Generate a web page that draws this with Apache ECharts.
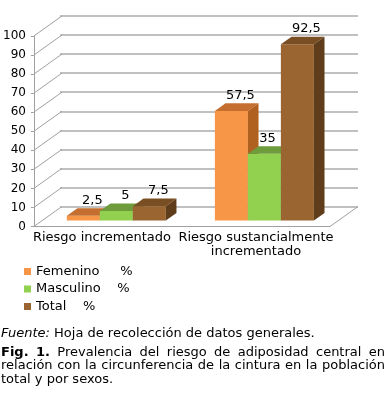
<!DOCTYPE html>
<html><head><meta charset="utf-8">
<script src="https://cdn.jsdelivr.net/npm/echarts@6/dist/echarts.min.js"></script>
<style>html,body{margin:0;padding:0;background:#fff}#c{width:386px;height:413px}</style>
</head><body><div id="c"></div>
<script>
// ---- data ----
const categories = ['Riesgo incrementado', 'Riesgo sustancialmente\nincrementado'];
const seriesNames = ['Femenino     %', 'Masculino    %', 'Total    %'];
const femenino = [2.5, 57.5];
const masculino = [5, 35];
const total = [7.5, 92.5];
const yTicks = [0, 10, 20, 30, 40, 50, 60, 70, 80, 90, 100];
const sourceText = 'Hoja de recolección de datos generales.';
const captionLines = [
  'Fig. 1. Prevalencia del riesgo de adiposidad central en',
  'relación con la circunferencia de la cintura en la población',
  'total y por sexos.'
];

// ---- style ----
const FONT = '"DejaVu Sans", Verdana, sans-serif';
const TXT = 13;
const faces = [
  { front: '#F79646', top: '#C46F2F', side: '#B0601F' },
  { front: '#92D050', top: '#6E9B3C', side: '#5E8A30' },
  { front: '#9A6531', top: '#7A4E23', side: '#5F3D1B' }
];
const DX = 28, DY = 20;          // depth of the 3D box
const F0 = 0.3, DEPTH = 0.38;    // bar position / depth inside the box
const BW = 33;                   // bar width
const FRONT = { left: 32, right: 56, top: 36, bottom: 186.5 };
const BACK = { left: FRONT.left + DX, right: FRONT.right - DX, top: FRONT.top - DY, bottom: FRONT.bottom + DY };

const seriesData = [femenino, masculino, total];
const fmt = v => String(v).replace('.', ',');

const ctx = document.createElement('canvas').getContext('2d');
function measure(t, bold) { ctx.font = (bold ? 'bold ' : '') + TXT + 'px ' + FONT; return ctx.measureText(t).width; }

function barGeom(si, api) {
  const cat = api.value(0), v = api.value(1);
  const base = api.coord([cat, 0]);
  const top = api.coord([cat, v]);
  const fx0 = base[0] - 1.5 * BW + si * BW + F0 * DX;
  return { cat, v, fx0, fx1: fx0 + BW, by: base[1] - F0 * DY, ty: top[1] - F0 * DY };
}

function barRender(si) {
  return function (params, api) {
    const g = barGeom(si, api);
    const { fx0, fx1, by, ty } = g;
    const ddx = DEPTH * DX, ddy = DEPTH * DY;
    const c = faces[si];
    return {
      type: 'group',
      children: [
        { type: 'rect', shape: { x: fx0, y: ty, width: BW, height: by - ty }, style: { fill: c.front } },
        { type: 'polygon', shape: { points: [[fx0, ty], [fx1, ty], [fx1 + ddx, ty - ddy], [fx0 + ddx, ty - ddy]] }, style: { fill: c.top } },
        { type: 'polygon', shape: { points: [[fx1, ty], [fx1 + ddx, ty - ddy], [fx1 + ddx, by - ddy], [fx1, by]] }, style: { fill: c.side } }
      ]
    };
  };
}

function labelRender(si) {
  return function (params, api) {
    const g = barGeom(si, api);
    const text = fmt(g.v);
    const w = measure(text, false);
    let cx = (g.fx0 + g.fx1) / 2 + 9;
    const cy = g.ty - 15.5;
    // keep the label clear of a taller neighbouring bar
    const next = seriesData[si + 1];
    if (next) {
      const nextTop = api.coord([g.cat, next[g.cat]])[1] - F0 * DY;
      if (nextTop < cy && cx + w / 2 > g.fx1 - 5) cx = g.fx1 - 5 - w / 2;
    }
    return { type: 'text', style: { text, x: cx, y: cy, align: 'center', verticalAlign: 'middle', fill: '#000', fontSize: TXT, fontFamily: FONT } };
  };
}

function diagRender(params, api) {
  const v = api.value(1);
  const p = api.coord([0, v]);
  const cs = params.coordSys;
  const x = cs.x;
  const children = [
    { type: 'line', shape: { x1: x, y1: p[1], x2: x + DX, y2: p[1] - DY }, style: { stroke: '#a0a0a0', lineWidth: 1 } }
  ];
  if (v === 0) {
    children.push({ type: 'line', shape: { x1: x + cs.width, y1: p[1], x2: x + cs.width + DX, y2: p[1] - DY }, style: { stroke: '#a0a0a0', lineWidth: 1 } });
  }
  return { type: 'group', children };
}

const series = [
  {
    type: 'custom', name: 'diag', xAxisIndex: 0, yAxisIndex: 0, silent: true, z: 1,
    renderItem: diagRender, data: yTicks.map(t => [0, t])
  }
];
seriesNames.forEach((n, i) => {
  series.push({
    type: 'custom', name: n, xAxisIndex: 0, yAxisIndex: 0, z: 3,
    itemStyle: { color: faces[i].front },
    renderItem: barRender(i),
    data: seriesData[i].map((v, ci) => [ci, v])
  });
});
seriesNames.forEach((n, i) => {
  series.push({
    type: 'custom', name: n + ' label', xAxisIndex: 0, yAxisIndex: 0, z: 5, silent: true,
    renderItem: labelRender(i),
    data: seriesData[i].map((v, ci) => [ci, v])
  });
});

// ---- caption (justified lines) ----
const graphics = [];
graphics.push({
  type: 'text', left: 1, top: 327,
  style: { text: '{i|Fuente:} ' + sourceText, fontSize: TXT, fontFamily: FONT, fill: '#000',
    rich: { i: { fontStyle: 'italic', fontSize: TXT, fontFamily: FONT, fill: '#000' } } }
});
const capY = [352.5, 366, 380];
const X0 = 1, X1 = 385;
captionLines.forEach((line, li) => {
  const words = line.split(' ');
  const bolds = words.map((w, wi) => li === 0 && wi < 2);
  const widths = words.map((w, wi) => measure(w, bolds[wi]));
  const sum = widths.reduce((a, b) => a + b, 0);
  const justify = li < captionLines.length - 1;
  const gap = justify ? (X1 - X0 - sum) / (words.length - 1) : measure(' ', false);
  let x = X0;
  words.forEach((w, wi) => {
    graphics.push({
      type: 'text', x: x, y: capY[li],
      style: { text: w, x: 0, y: 0, align: 'left', verticalAlign: 'middle', fill: '#000', fontSize: TXT, fontFamily: FONT, fontWeight: bolds[wi] ? 'bold' : 'normal' }
    });
    x += widths[wi] + gap;
  });
});

const chart = echarts.init(document.getElementById('c'), null, { renderer: 'canvas' });
chart.setOption({
  animation: false,
  backgroundColor: '#fff',
  textStyle: { fontFamily: FONT },
  grid: [
    { left: FRONT.left, right: FRONT.right, top: FRONT.top, bottom: FRONT.bottom },
    { left: BACK.left, right: BACK.right, top: BACK.top, bottom: BACK.bottom }
  ],
  xAxis: [
    {
      gridIndex: 0, type: 'category', data: categories, boundaryGap: true,
      axisLine: { show: true, lineStyle: { color: '#a0a0a0', width: 1 } },
      axisTick: { show: false },
      axisLabel: {
        interval: 0, margin: 4, color: '#000', fontSize: TXT, fontFamily: FONT, lineHeight: 14,
        formatter: (val, idx) => idx === 0 ? '{a|' + val + '}' : val,
        rich: { a: { padding: [0, 12, 0, 0], color: '#000', fontSize: TXT, fontFamily: FONT } }
      },
      splitLine: { show: false }
    },
    { gridIndex: 1, type: 'value', min: 0, max: 1, show: false }
  ],
  yAxis: [
    {
      gridIndex: 0, type: 'value', min: 0, max: 100, interval: 10,
      axisLine: { show: true, lineStyle: { color: '#a0a0a0' } },
      axisTick: { show: true, length: 3, lineStyle: { color: '#a0a0a0' } },
      axisLabel: { margin: 8, color: '#000', fontSize: 12, fontFamily: FONT },
      splitLine: { show: false }
    },
    {
      gridIndex: 1, type: 'value', min: 0, max: 100, interval: 10,
      axisLine: { show: false }, axisTick: { show: false }, axisLabel: { show: false },
      splitLine: { show: true, lineStyle: { color: '#c0c0c0', width: 2 } }
    }
  ],
  legend: {
    data: seriesNames, orient: 'vertical', left: 19, top: 260,
    itemWidth: 7, itemHeight: 7, itemGap: 4.5, icon: 'rect', selectedMode: false,
    textStyle: { fontSize: TXT, fontFamily: FONT, color: '#000' }
  },
  graphic: graphics,
  series: series
});
</script>
</body></html>
